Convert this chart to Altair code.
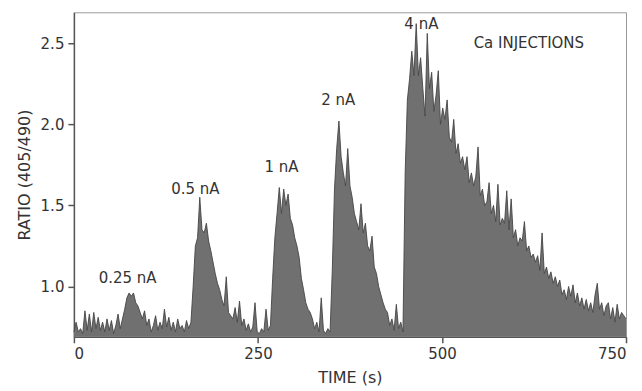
import altair as alt
import pandas as pd

STEP = 3  # seconds between samples

# baseline + 0.25 nA injection (t = 0 .. 159 s)
seg_a_start = 0
seg_a = [0.72, 0.78, 0.72, 0.74, 0.71, 0.85, 0.73, 0.83, 0.72, 0.84,
         0.74, 0.81, 0.73, 0.78, 0.72, 0.80, 0.73, 0.79, 0.71, 0.76,
         0.83, 0.74, 0.80, 0.86, 0.93, 0.96, 0.94, 0.96, 0.90, 0.88,
         0.84, 0.80, 0.85, 0.76, 0.80, 0.72, 0.76, 0.82, 0.73, 0.78,
         0.74, 0.86, 0.75, 0.81, 0.73, 0.78, 0.72, 0.80, 0.74, 0.76,
         0.72, 0.79, 0.74, 0.78]

# 0.5 nA injection (t = 162 .. 267 s)
seg_b_start = 162
seg_b = [1.00, 1.25, 1.30, 1.55, 1.35, 1.33, 1.39, 1.28, 1.22, 1.15,
         1.08, 1.02, 0.98, 0.92, 0.88, 1.06, 0.84, 0.82, 0.80, 0.87,
         0.78, 0.91, 0.76, 0.80, 0.73, 0.77, 0.72, 0.75, 0.90, 0.72,
         0.71, 0.74, 0.72, 0.86, 0.73, 0.76]

# 1 nA injection (t = 270 .. 348 s)
seg_c_start = 270
seg_c = [1.05, 1.30, 1.45, 1.61, 1.45, 1.60, 1.50, 1.57, 1.42, 1.38,
         1.30, 1.25, 1.18, 1.05, 0.98, 0.90, 0.86, 0.84, 0.80, 0.74,
         0.78, 0.72, 0.93, 0.73, 0.71, 0.74, 0.72]

# 2 nA injection (t = 351 .. 447 s)
seg_d_start = 351
seg_d = [1.10, 1.60, 1.85, 2.02, 1.80, 1.70, 1.62, 1.85, 1.62, 1.55,
         1.45, 1.40, 1.35, 1.51, 1.33, 1.39, 1.25, 1.22, 1.31, 1.12,
         1.08, 1.00, 0.95, 0.90, 0.86, 0.84, 0.76, 0.80, 0.73, 0.89,
         0.74, 0.78, 0.72]

# 4 nA injection (t = 450 .. 750 s)
seg_e_start = 450
seg_e = [1.70, 2.15, 2.28, 2.45, 2.30, 2.62, 2.30, 2.41, 2.22, 2.05,
         2.56, 2.22, 2.32, 2.08, 2.18, 2.33, 2.00, 2.10, 2.03, 2.15,
         1.92, 1.89, 2.03, 1.82, 1.88, 1.76, 1.80, 1.72, 1.80, 1.64,
         1.70, 1.62, 1.68, 1.86, 1.56, 1.60, 1.50, 1.52, 1.64, 1.45,
         1.50, 1.40, 1.63, 1.38, 1.42, 1.39, 1.59, 1.35, 1.54, 1.30,
         1.35, 1.25, 1.30, 1.28, 1.40, 1.22, 1.25, 1.18, 1.20, 1.15,
         1.19, 1.10, 1.33, 1.08, 1.12, 1.05, 1.09, 1.02, 1.06, 1.00,
         1.04, 0.95, 0.98, 0.92, 1.00, 0.94, 1.01, 0.90, 0.96, 0.88,
         0.93, 0.86, 0.92, 0.85, 0.90, 0.84, 0.95, 1.02, 0.86, 0.90,
         0.82, 0.88, 0.90, 0.80, 0.87, 0.78, 0.89, 0.80, 0.84, 0.82,
         0.80]

labels = ["0.25 nA", "0.5 nA", "1 nA", "2 nA", "4 nA", "Ca INJECTIONS"]
label_t = [73, 165, 282, 359, 472, 618]
label_r = [1.055, 1.60, 1.735, 2.15, 2.62, 2.50]

x_ticks = [0, 250, 500, 750]
y_ticks = [1.0, 1.5, 2.0, 2.5]
Y_MIN, Y_MAX = 0.69, 2.69

rows = []
for start, vals in [(seg_a_start, seg_a), (seg_b_start, seg_b), (seg_c_start, seg_c),
                    (seg_d_start, seg_d), (seg_e_start, seg_e)]:
    for i, v in enumerate(vals):
        rows.append({"t": start + STEP * i, "r": v})
df = pd.DataFrame(rows)
ann = pd.DataFrame({"label": labels, "t": label_t, "r": label_r})

FONT = "DejaVu Sans"
TXT = "#333333"

x = alt.X("t:Q", scale=alt.Scale(domain=[0, 750], nice=False),
          axis=alt.Axis(values=x_ticks, title="TIME (s)", grid=False, format="d"))
y = alt.Y("r:Q", scale=alt.Scale(domain=[Y_MIN, Y_MAX], nice=False, zero=False),
          axis=alt.Axis(values=y_ticks, title="RATIO (405/490)", grid=False, format=".1f"))

area = alt.Chart(df).mark_area(color="#707070", opacity=1, interpolate="linear").encode(
    x=x, y=y, y2=alt.datum(Y_MIN))
line = alt.Chart(df).mark_line(color="#454545", strokeWidth=0.9).encode(x="t:Q", y="r:Q")
text = alt.Chart(ann).mark_text(font=FONT, fontSize=15, color=TXT, align="center",
                                baseline="middle").encode(x="t:Q", y="r:Q", text="label:N")

chart = alt.layer(area, line, text).properties(
    width=553, height=325,
    autosize=alt.AutoSizeParams(type="none"),
    padding={"left": 66, "top": 4, "right": 8, "bottom": 54},
).configure_view(stroke="#9a9a9a", strokeWidth=1).configure_axis(
    labelFont=FONT, titleFont=FONT, labelFontSize=15, titleFontSize=16,
    labelColor=TXT, titleColor=TXT, titleFontWeight="normal",
    domainColor="#555555", domainWidth=1.5, tickColor="#555555", tickWidth=1.5,
    tickSize=6, labelPadding=4,
).configure_axisY(titlePadding=8).configure_axisX(titlePadding=8)

chart.save("out.html", embed_options={"renderer": "svg", "actions": False})
